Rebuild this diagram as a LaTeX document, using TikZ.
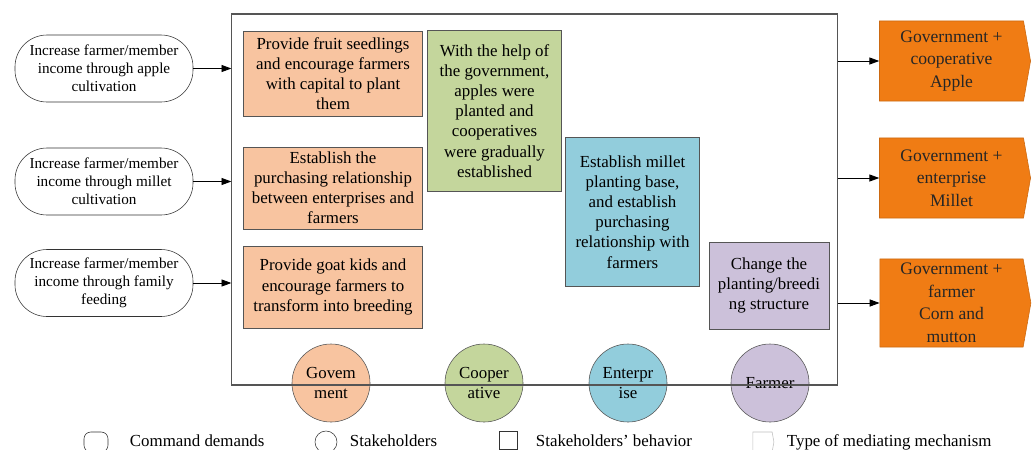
\documentclass[tikz,border=0pt]{standalone}
\usepackage{fontspec}
\setmainfont{Liberation Serif}
\usepackage{xcolor}
\usepackage{tikz}
\usetikzlibrary{arrows.meta,shapes.symbols}

\definecolor{govfill}{HTML}{F8C4A0}
\definecolor{coopfill}{HTML}{C4D69C}
\definecolor{entfill}{HTML}{92CDDC}
\definecolor{farmfill}{HTML}{CCC1DA}
\definecolor{mechfill}{HTML}{F07C14}
\definecolor{edgegray}{HTML}{555555}

\tikzset{
  >={Triangle[length=7pt,width=5pt]},
  demand/.style={draw=black!80, rounded corners=0.8cm, align=center, minimum width=4.45cm, minimum height=1.675cm, font=\fontsize{10.8}{12.8}\selectfont},
  behav/.style={draw=edgegray, line width=0.7pt, align=center, inner sep=0pt, font=\fontsize{12}{14.3}\selectfont},
  holder/.style={draw=edgegray, circle, align=center, minimum size=1.95cm, inner sep=0pt, font=\fontsize{12}{14.3}\selectfont},
  mech/.style={signal, signal to=east, signal pointer angle=160, fill=mechfill, draw=mechfill!85!black, align=center, minimum width=3.775cm, inner sep=0pt, font=\fontsize{12.5}{16}\selectfont, text=black!85},
  legtext/.style={anchor=base west, font=\fontsize{12}{14}\selectfont}
}

\begin{document}
\begin{tikzpicture}[x=0.025cm,y=-0.025cm]
\useasboundingbox (0,0) rectangle (1033,449);
\clip (0,0) rectangle (1033,449);

% domande di comando
\node[demand] (dapple) at (104,68.5) {Increase farmer/member\\income through apple\\cultivation};
\node[demand] (dmillet) at (104,181.5) {Increase farmer/member\\income through millet\\cultivation};
\node[demand] (dfamily) at (104,283) {Increase farmer/member\\income through family\\feeding};

% soggetti
\node[holder, fill=govfill] (gov) at (331,383) {Govem\\ment};
\node[holder, fill=coopfill] (coop) at (484,383) {Cooper\\ative};
\node[holder, fill=entfill] (ent) at (628,383) {Enterpr\\ise};
\node[holder, fill=farmfill] (farm) at (770,383) {Farmer};

% riquadro centrale
\node[draw=edgegray, line width=0.8pt, minimum width=15.125cm, minimum height=9.275cm, inner sep=0pt] (frame) at (534.5,199.5) {};

% comportamenti
\node[behav, fill=govfill, minimum width=4.45cm, minimum height=2.125cm] (gseed) at (333,73.5) {Provide fruit seedlings\\and encourage farmers\\with capital to plant\\them};
\node[behav, fill=govfill, minimum width=4.45cm, minimum height=2.05cm] (gbuy) at (333,188) {Establish the\\purchasing relationship\\between enterprises and\\farmers};
\node[behav, fill=govfill, minimum width=4.45cm, minimum height=2.05cm] (ggoat) at (333,287) {Provide goat kids and\\encourage farmers to\\transform into breeding};
\node[behav, fill=coopfill, minimum width=3.325cm, minimum height=4cm] (capple) at (494.5,111) {With the help of\\the government,\\apples were\\planted and\\cooperatives\\were gradually\\established};
\node[behav, fill=entfill, minimum width=3.325cm, minimum height=3.7cm] (ebase) at (632.5,212) {Establish millet\\planting base,\\and establish\\purchasing\\relationship with\\farmers};
\node[behav, fill=farmfill, minimum width=3cm, minimum height=2.175cm] (fchange) at (769,285.5) {Change the\\planting/breedi\\ng structure};

% meccanismi
\node[mech, minimum height=2cm] (mapple) at (951.5,61) {Government +\\cooperative\\Apple};
\node[mech, minimum height=2cm] (mmillet) at (951.5,178) {Government +\\enterprise\\Millet};
\node[mech, minimum height=2.2cm] (mcorn) at (951.5,303) {Government +\\farmer\\Corn and\\mutton};

% frecce
\draw[->][line width=0.6pt] (dapple.east) -- (dapple.east -| frame.west);
\draw[->][line width=0.6pt] (dmillet.east) -- (dmillet.east -| frame.west);
\draw[->][line width=0.6pt] (dfamily.east) -- (dfamily.east -| frame.west);
\draw[->][line width=0.6pt] (mapple.west -| frame.east) -- (mapple.west);
\draw[->][line width=0.6pt] (mmillet.west -| frame.east) -- (mmillet.west);
\draw[->][line width=0.6pt] (mcorn.west -| frame.east) -- (mcorn.west);

% legenda
\node[draw=black!80, rounded corners=0.17cm, minimum width=0.6cm, minimum height=0.5cm, inner sep=0pt] (lgdem) at (96,442) {};
\node[legtext] (lgdemtxt) at (125,446) {Command demands};
\node[draw=black!80, circle, minimum size=0.55cm, inner sep=0pt] (lghold) at (326,442) {};
\node[legtext] (lgholdtxt) at (345,446) {Stakeholders};
\node[draw=black!80, minimum size=0.45cm, inner sep=0pt] (lgbeh) at (508,440) {};
\node[legtext] (lgbehtxt) at (531,446) {Stakeholders’ behavior};
\node[signal, signal to=east, signal pointer angle=160, draw=black!25, minimum width=0.525cm, minimum height=0.5cm, inner sep=0pt] (lgmech) at (762.5,442) {};
\node[legtext] (lgmechtxt) at (782,446) {Type of mediating mechanism};
\end{tikzpicture}
\end{document}
